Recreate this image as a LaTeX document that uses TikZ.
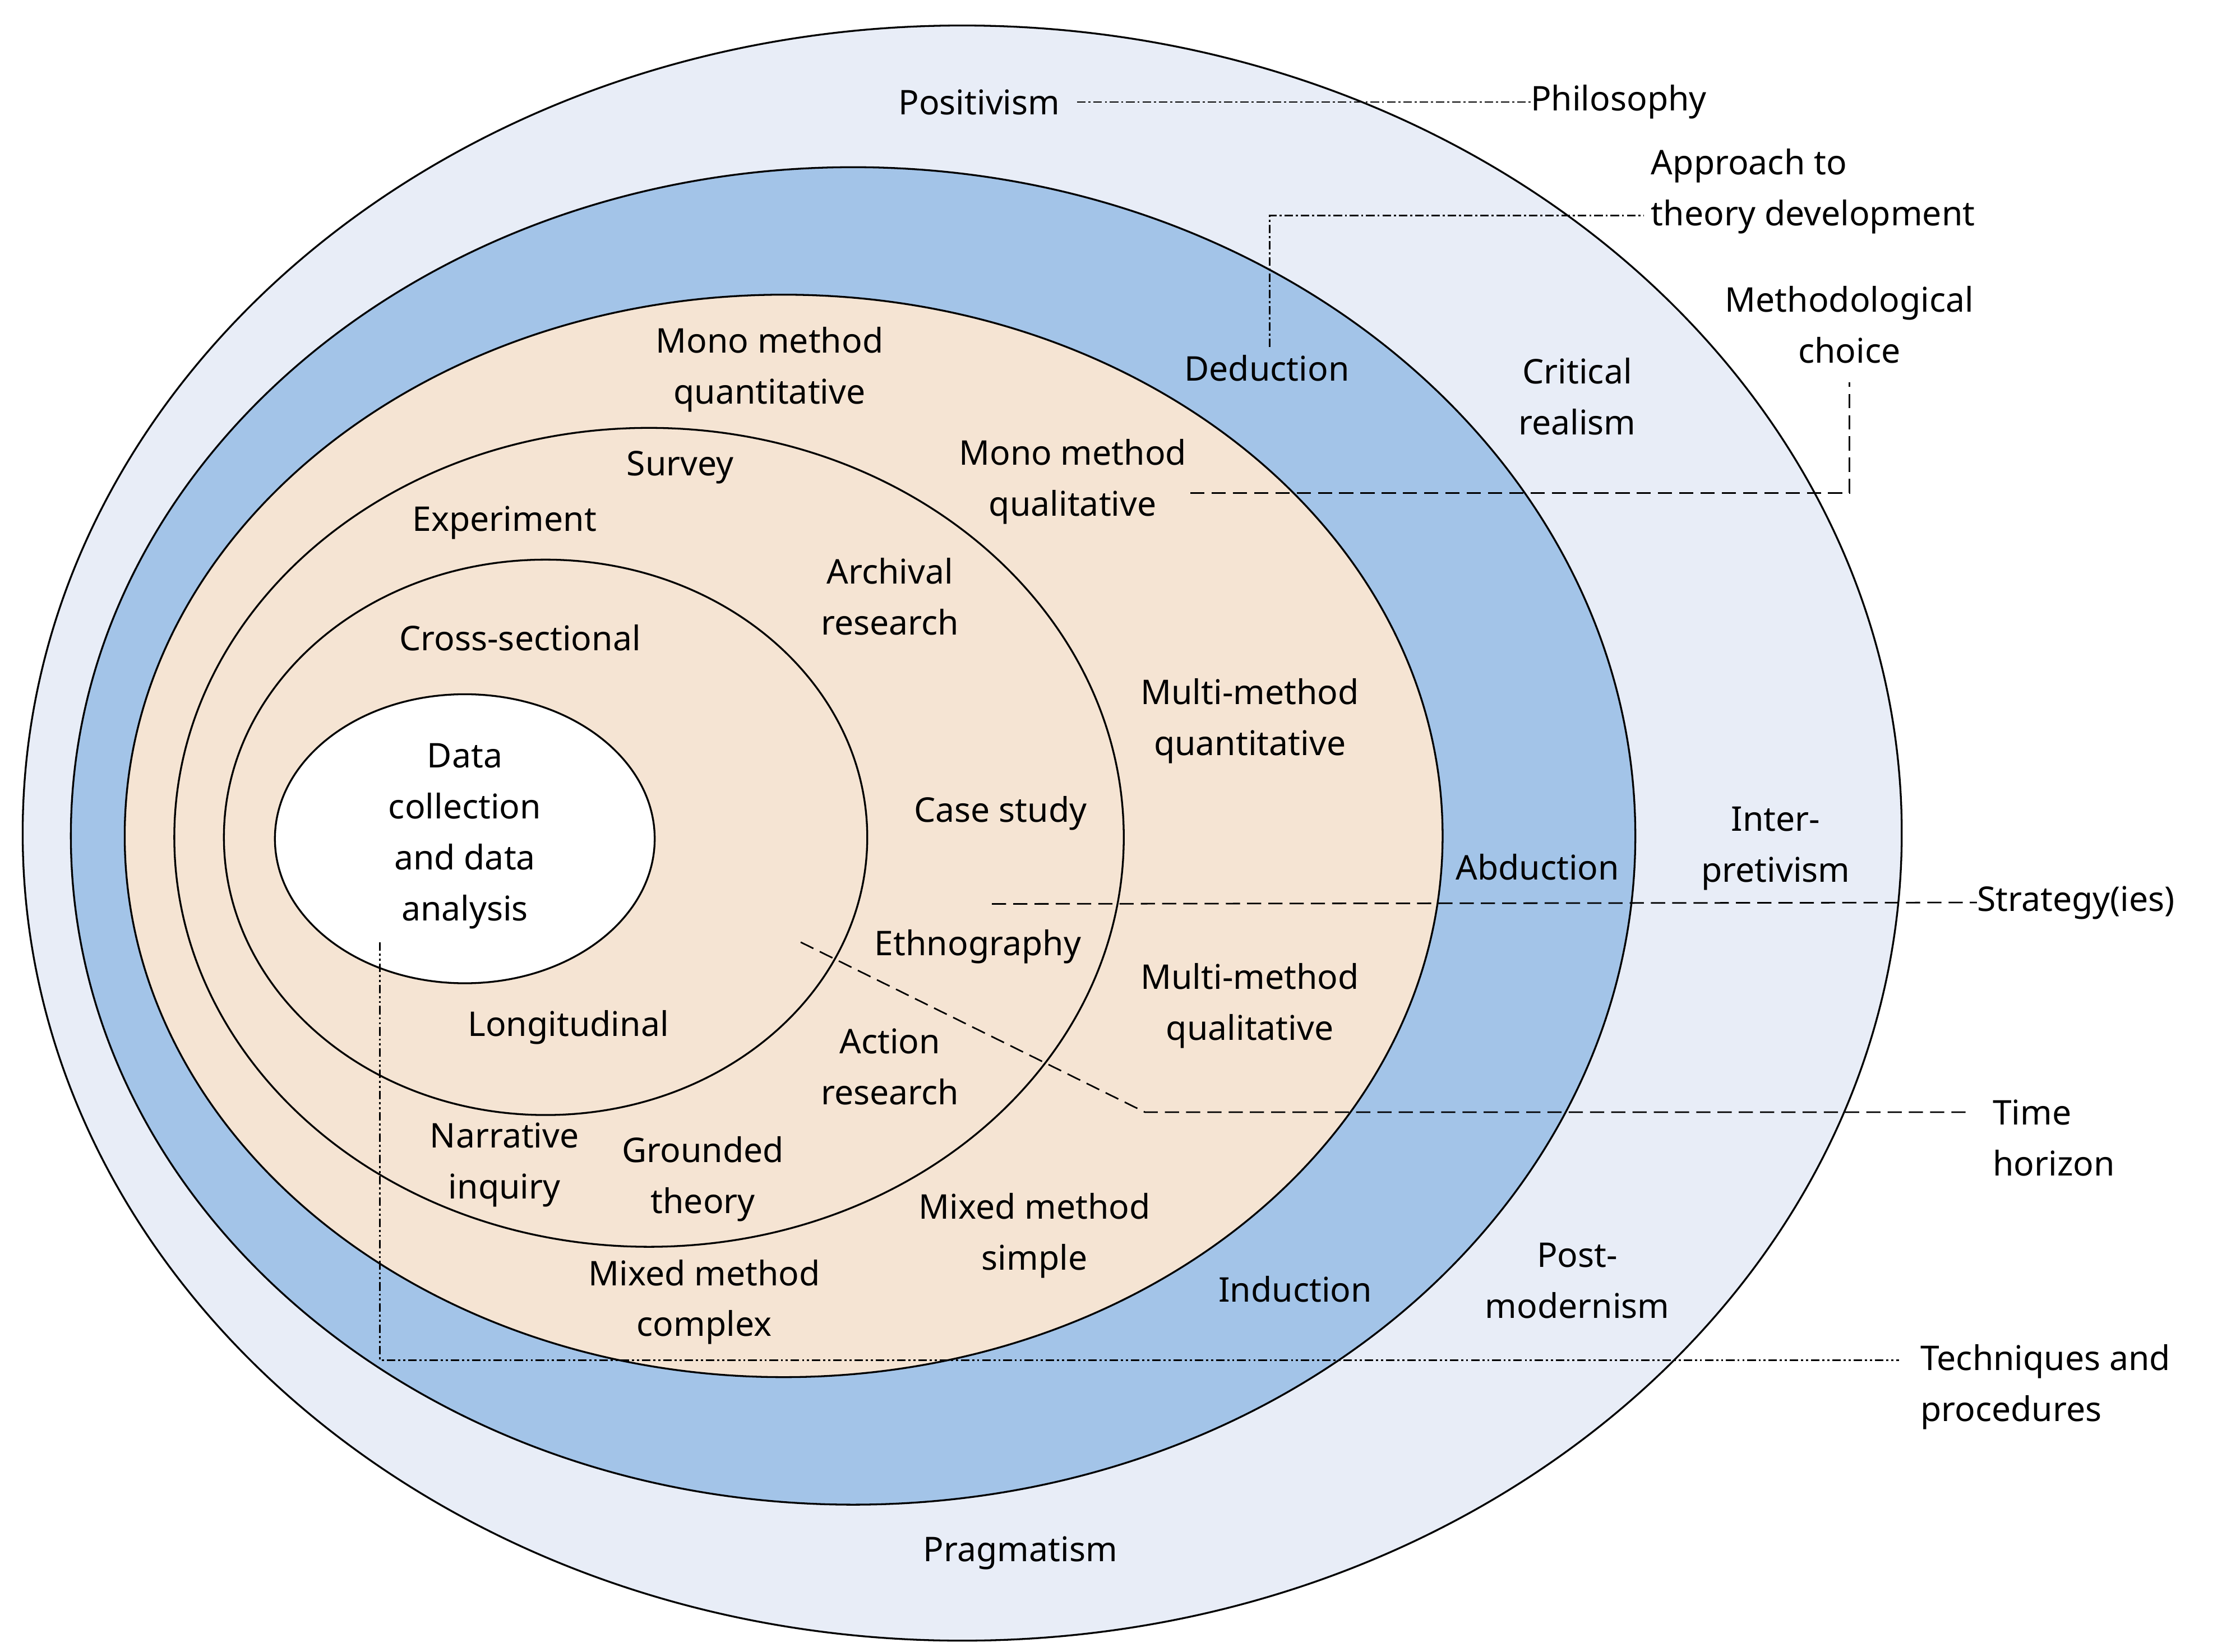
\documentclass[tikz,border=0pt]{standalone}
\usepackage{fontspec}
\setmainfont{Noto Sans}
\begin{document}
\begin{tikzpicture}[x=1pt,y=-1pt,
  ring/.style={draw=black,line width=1.3pt},
  lbl/.style={align=center,font=\fontsize{24}{36}\selectfont,inner sep=0pt},
  hd/.style={lbl,font=\fontsize{24}{36}\selectfont\bfseries},
  lnk/.style={line width=1.1pt}]
\useasboundingbox (0,0) rectangle (1568,1166);
\fill[white] (0,0) rectangle (1568,1166);
\draw[ring,fill={rgb,255:red,232;green,237;blue,247}] (679,588) ellipse [x radius=663,y radius=570];
\draw[ring,fill={rgb,255:red,163;green,196;blue,232}] (602,590) ellipse [x radius=552,y radius=472];
\draw[ring,fill={rgb,255:red,245;green,228;blue,211}] (553,590) ellipse [x radius=465,y radius=382];
\draw[ring] (458,591) ellipse [x radius=335,y radius=289];
\draw[ring] (385,591) ellipse [x radius=227,y radius=196];
\draw[ring,fill=white] (328,592) ellipse [x radius=134,y radius=102];

\node[lbl] (pos) at (691,72) {Positivism};
\node[hd,anchor=west] (phil) at (1080,72) {Philosophy};
\node[hd,anchor=west,align=left] (appr) at (1165,135) {Approach to\\theory development};
\node[lbl] (mchoice) at (1305,229) {Methodological\\choice};
\node[lbl] (ded) at (894,260) {Deduction};
\node[lbl] (cr) at (1113,280) {Critical\\realism};
\node[lbl] (mmq) at (543,261) {Mono method\\quantitative};
\node[lbl] (mmql) at (757,340) {Mono method\\qualitative};
\node[lbl] (surv) at (480,330) {Survey};
\node[lbl] (exp) at (356,369) {Experiment};
\node[lbl] (arch) at (628,421) {Archival\\research};
\node[lbl] (cs) at (367,450) {Cross-sectional};
\node[lbl] (mmquant) at (882,509) {Multi-method\\quantitative};
\node[lbl] (dc) at (328,590) {Data\\collection\\and data\\analysis};
\node[lbl] (case) at (706,574) {Case study};
\node[lbl] (abd) at (1085,612) {Abduction};
\node[lbl] (int) at (1253,599) {Inter-\\pretivism};
\node[lbl,anchor=west] (strat) at (1395,637) {Strategy(ies)};
\node[lbl] (eth) at (690,668) {Ethnography};
\node[lbl] (mmqual) at (882,710) {Multi-method\\qualitative};
\node[lbl] (long) at (401,725) {Longitudinal};
\node[lbl] (ar) at (628,753) {Action\\research};
\node[lbl,anchor=west,align=left] (th) at (1406,803) {Time\\horizon};
\node[lbl] (ni) at (356,822) {Narrative\\inquiry};
\node[lbl] (gt) at (496,832) {Grounded\\theory};
\node[lbl] (mms) at (730,872) {Mixed method\\simple};
\node[lbl] (mmc) at (497,919) {Mixed method\\complex};
\node[lbl] (ind) at (914,910) {Induction};
\node[lbl] (pm) at (1113,904) {Post-\\modernism};
\node[lbl,anchor=west,align=left] (tp) at (1355,979) {Techniques and\\procedures};
\node[lbl] (prag) at (720,1096) {Pragmatism};

\coordinate (c1) at (896,245);
\coordinate (c2) at (840,348);
\coordinate (c3) at (700,638);
\coordinate (c4) at (565,665);
\coordinate (c5) at (268,665);

\draw[lnk,dash pattern=on 6pt off 2pt on 1.5pt off 2pt] (pos.east)++(12,0) -- (phil.west);
\draw[lnk,dash pattern=on 6pt off 2pt on 1.5pt off 2pt] (c1) |- (1160,152);
\draw[lnk,dash pattern=on 10pt off 5pt] (c2) -| (1305,270);
\draw[lnk,dash pattern=on 10pt off 5pt] (c3) -- (strat.west);
\draw[lnk,dash pattern=on 10pt off 5pt] (c4) -- (808,785) -- (1390,785);
\draw[lnk,dash pattern=on 6pt off 2pt on 1.5pt off 2pt on 1.5pt off 2pt] (c5) |- (1340,960);
\end{tikzpicture}
\end{document}
